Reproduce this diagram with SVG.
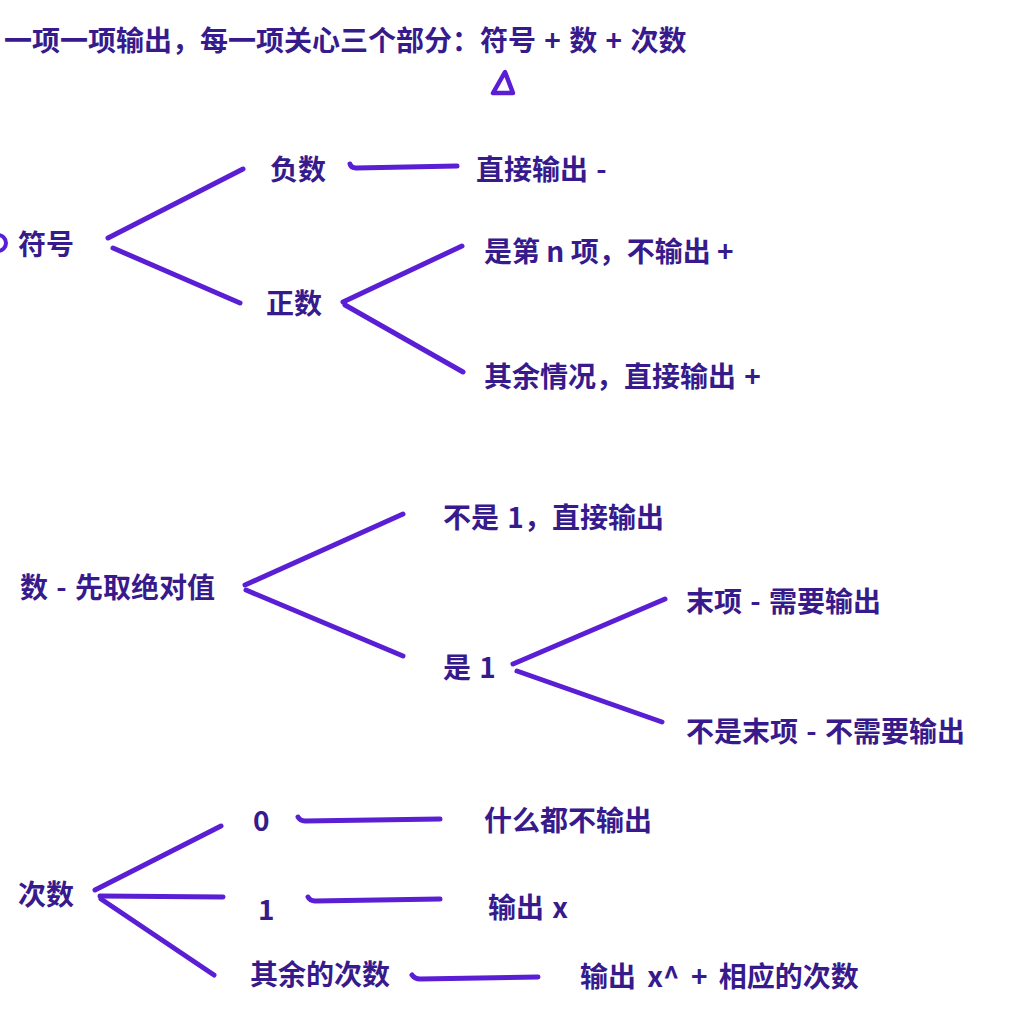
<svg xmlns="http://www.w3.org/2000/svg" width="1023" height="1026" viewBox="0 0 1023 1026">
<style>
.t{font-family:"Noto Sans CJK SC","Noto Sans",sans-serif;font-weight:700;font-size:28px;fill:#371a8c;word-spacing:2px}
.c{fill:none;stroke:#5a1fd4;stroke-width:5;stroke-linecap:round;stroke-linejoin:round}
</style>
<rect width="1023" height="1026" fill="#ffffff"/>
<g id="title"><text class="t" x="4" y="51">一项一项输出，每一项关心三个部分：符号 + 数 + 次数</text></g>
<g id="cursor"><path d="M505,72 L493,93 L513,93 Z" fill="none" stroke="#5a1fd4" stroke-width="4.5" stroke-linejoin="round"/></g>
<g id="edge-mark"><path d="M-2,235 A7,7 0 0 1 -2,251" fill="none" stroke="#5a1fd4" stroke-width="4"/></g>
<g id="n-fuhao"><text class="t" x="18" y="255">符号</text></g>
<g id="n-fushu"><text class="t" x="270" y="180">负数</text></g>
<g id="n-fushu-out"><text class="t" x="476" y="180">直接输出 -</text></g>
<g id="n-zhengshu"><text class="t" x="266" y="314">正数</text></g>
<g id="n-zheng-n"><text class="t" x="484" y="262" style="word-spacing:0px">是第 n 项，不输出 +</text></g>
<g id="n-zheng-else"><text class="t" x="484" y="387">其余情况，直接输出 +</text></g>
<g id="n-shu"><text class="t" x="20" y="598">数 - 先取绝对值</text></g>
<g id="n-not1"><text class="t" x="443" y="528">不是 1，直接输出</text></g>
<g id="n-is1"><text class="t" x="443" y="678">是 1</text></g>
<g id="n-last"><text class="t" x="686" y="612">末项 - 需要输出</text></g>
<g id="n-notlast"><text class="t" x="686" y="742">不是末项 - 不需要输出</text></g>
<g id="n-cishu"><text class="t" x="18" y="905">次数</text></g>
<g id="n-0"><text class="t" x="253" y="831">0</text></g>
<g id="n-0-out"><text class="t" x="484" y="831">什么都不输出</text></g>
<g id="n-1"><text class="t" x="258" y="920">1</text></g>
<g id="n-1-out"><text class="t" x="488" y="918">输出 x</text></g>
<g id="n-other"><text class="t" x="250" y="985">其余的次数</text></g>
<g id="n-other-out"><text class="t" x="580" y="987" style="word-spacing:5px">输出 x^ + 相应的次数</text></g>
<g id="connectors">
<path class="c" d="M108,238 L243,169"/>
<path class="c" d="M113,248 L240,303"/>
<path class="c" d="M350,164 Q351,168 356,168 L457,166"/>
<path class="c" d="M343,302 L462,246"/>
<path class="c" d="M345,305 L463,372"/>
<path class="c" d="M245,585 L403,514"/>
<path class="c" d="M246,590 L403,656"/>
<path class="c" d="M513,664 L665,599"/>
<path class="c" d="M517,671 L662,722"/>
<path class="c" d="M95,890 L221,826"/>
<path class="c" d="M100,896 L223,897"/>
<path class="c" d="M101,899 L214,975"/>
<path class="c" d="M298,817 Q300,821 305,821 L440,819"/>
<path class="c" d="M308,897 Q310,901 315,901 L440,899"/>
<path class="c" d="M412,975 Q415,979 420,979 L538,977"/>
</g>
</svg>
